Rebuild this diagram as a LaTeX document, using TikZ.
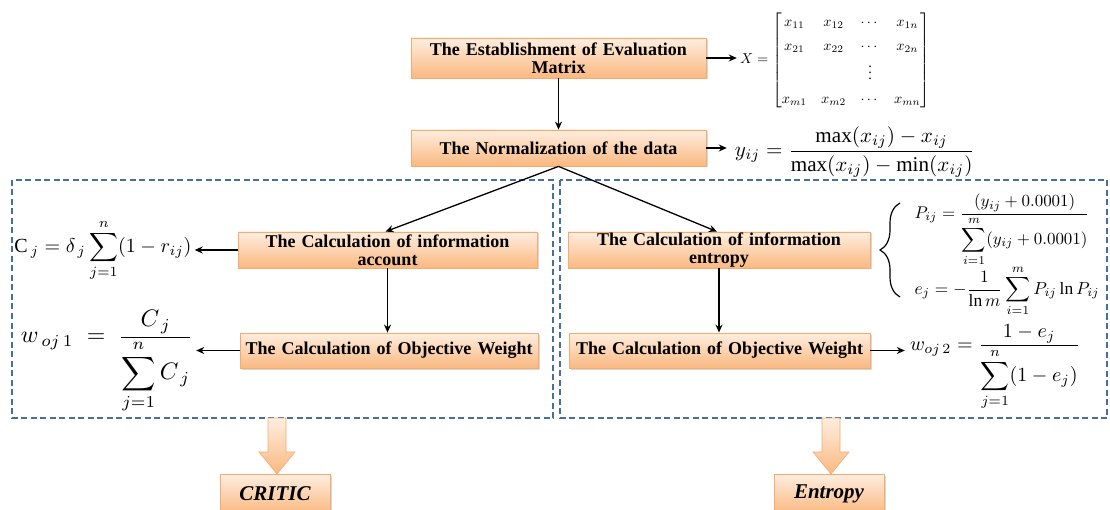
\documentclass[tikz,border=0pt]{standalone}
\usepackage{amsmath}
\usepackage{graphicx}
\usepackage{fontspec}
\setmainfont{Liberation Serif}
\usetikzlibrary{arrows.meta,shadows,decorations.pathreplacing}
\definecolor{boxtop}{RGB}{254,238,224}
\definecolor{boxbot}{RGB}{250,184,128}
\definecolor{boxline}{RGB}{246,170,110}
\definecolor{dashblue}{RGB}{70,110,165}
\tikzset{
  stepbox/.style={draw=boxline, line width=0.8pt, top color=boxtop, bottom color=boxbot,
    drop shadow={shadow xshift=1.5pt, shadow yshift=-1.5pt, opacity=0.3, fill=gray},
    inner sep=0pt, align=center, font=\fontsize{18}{18}\selectfont\bfseries},
  resbox/.style={stepbox, font=\fontsize{21}{22}\selectfont\bfseries\itshape},
  arr/.style={-{Stealth[length=8pt,width=7pt]}, line width=1.3pt},
  dashbox/.style={draw=dashblue, line width=1.3pt, dash pattern=on 6pt off 3.5pt},
  fml/.style={inner sep=0pt},
  bigarrow/.style={draw=boxline, line width=0.6pt, top color=boxtop, bottom color=boxbot}
}
\begin{document}
\begin{tikzpicture}[x=1pt,y=-1pt]
\useasboundingbox (0,0) rectangle (1110,510);

% dashed regions
\draw[dashbox] (12,180) rectangle (553,418);
\draw[dashbox] (560,180) rectangle (1107,418);

% step boxes
\node[stepbox, minimum width=295pt, minimum height=40pt, text width=293pt] (b1) at (558.5,58)
  {The Establishment of Evaluation\\Matrix};
\node[stepbox, minimum width=295pt, minimum height=36pt, text width=293pt] (b2) at (558.5,148)
  {The Normalization of the data};
\node[stepbox, minimum width=299pt, minimum height=36pt, text width=297pt] (b3) at (387.5,250)
  {The Calculation of information\\account};
\node[stepbox, minimum width=298pt, minimum height=35pt, text width=296pt] (b4) at (389,350.5)
  {The Calculation of Objective Weight};
\node[stepbox, minimum width=302pt, minimum height=36pt, text width=300pt] (b5) at (719,250)
  {The Calculation of information\\entropy};
\node[stepbox, minimum width=301pt, minimum height=35pt, text width=299pt] (b6) at (719.5,350.5)
  {The Calculation of Objective Weight};
\node[resbox, minimum width=110pt, minimum height=40pt] (c1) at (275,494) {CRITIC};
\node[resbox, minimum width=110pt, minimum height=40pt] (c2) at (829,494) {Entropy};

% formulas
\node[fml] (fx) at (835,60) {\resizebox{190pt}{!}{\renewcommand\arraystretch{1.4}$X=\begin{bmatrix}
 x_{11} & x_{12} & \cdots & x_{1n}\\
 x_{21} & x_{22} & \cdots & x_{2n}\\
  & & \vdots & \\
 x_{m1} & x_{m2} & \cdots & x_{mn}\end{bmatrix}$}};
\node[fml] (fy) at (855,152) {\resizebox{240pt}{!}{$\displaystyle y_{ij}=\frac{\max(x_{ij})-x_{ij}}{\max(x_{ij})-\min(x_{ij})}$}};
\node[fml] (fc) at (103,250) {\resizebox{177pt}{!}{$\displaystyle \mathrm{C}_{\,j}=\delta_{\,j}\sum_{j=1}^{n}(1-r_{ij})$}};
\node[fml] (fw1) at (107,362) {\resizebox{172pt}{!}{$\displaystyle w_{\,oj\,1}\;=\;\frac{C_{\,j}}{\displaystyle\sum_{j=1}^{n}C_{\,j}}$}};
\node[fml] (fp) at (1002,230) {\resizebox{175pt}{!}{$\displaystyle P_{ij}=\frac{(y_{ij}+0.0001)}{\displaystyle\sum_{i=1}^{m}(y_{ij}+0.0001)}$}};
\node[fml] (fe) at (1007,291) {\resizebox{185pt}{!}{$\displaystyle e_{j}=-\frac{1}{\ln m}\sum_{i=1}^{m}P_{ij}\ln P_{ij}$}};
\node[fml] (fw2) at (995,367) {\resizebox{170pt}{!}{$\displaystyle w_{oj\,2}=\frac{1-e_{j}}{\displaystyle\sum_{j=1}^{n}(1-e_{j})}$}};

% connectors
\draw[arr] (b1.south) -- (b2.north);
\draw[arr] (b1.east) -- ([xshift=-3pt]fx.west |- b1.east);
\draw[arr] (b2.east) -- ([xshift=-8pt]fy.west |- b2.east);
\draw[arr] (b2.south) -- ([xshift=-2pt]b3.north);
\draw[arr] (b2.south) -- ([xshift=-2pt]b5.north);
\draw[arr] (b3.south) -- (b4.north -| b3.south);
\draw[arr] (b5.south) -- (b6.north -| b5.south);
\draw[arr] (b3.west) -- ([xshift=3pt]fc.east |- b3.west);
\draw[arr] (b4.west) -- ([xshift=3pt]fw1.east |- b4.west);
\draw[arr] (b6.east) -- ([xshift=-5pt]fw2.west |- b6.east);

% brace
\draw[line width=1.2pt, decorate, decoration={brace, amplitude=20pt}] (900,297) -- (900,203);

% big arrows
\draw[bigarrow] (268,418) -- (286,418) -- (286,452) -- (295,452) -- (277,474) -- (259,452) -- (268,452) -- cycle;
\draw[bigarrow] (822,418) -- (840,418) -- (840,452) -- (849,452) -- (831,474) -- (813,452) -- (822,452) -- cycle;
\end{tikzpicture}
\end{document}
